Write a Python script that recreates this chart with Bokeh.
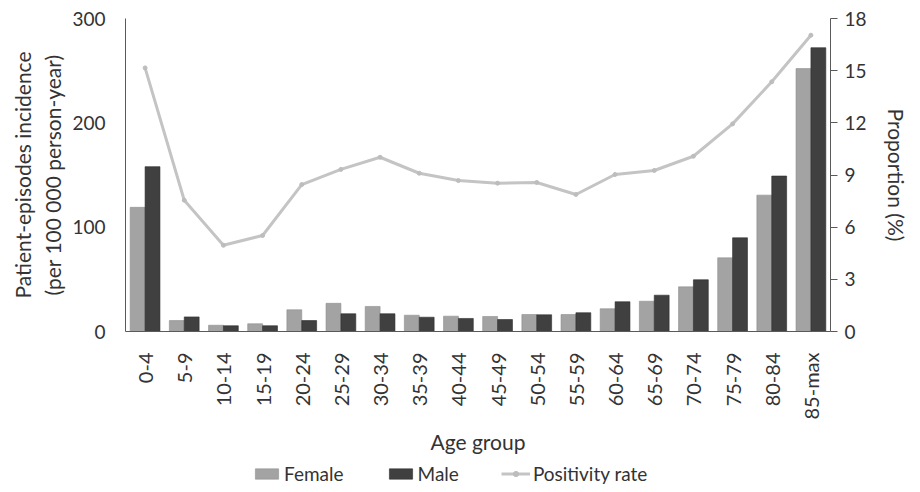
import math
from bokeh.plotting import figure
from bokeh.layouts import column
from bokeh.models import (ColumnDataSource, FactorRange, Range1d, LinearAxis,
                          FixedTicker, Legend, LegendItem)
from bokeh.transform import dodge
from bokeh.embed import file_html
from bokeh.resources import INLINE

age_groups = ["0-4", "5-9", "10-14", "15-19", "20-24", "25-29", "30-34", "35-39",
              "40-44", "45-49", "50-54", "55-59", "60-64", "65-69", "70-74",
              "75-79", "80-84", "85-max"]
female = [119, 10.5, 6, 7.4, 20.8, 27, 24, 15.6, 14.7, 14.4, 16.3, 16.3, 21.8,
          29, 42.8, 70.6, 130.7, 252]
male = [158, 14, 5.5, 5.5, 10.5, 17, 17, 13.7, 12.5, 11.5, 16, 18, 28.5, 34.8,
        49.6, 89.8, 149, 272]
positivity = [15.16, 7.55, 4.96, 5.52, 8.45, 9.32, 10.02, 9.1, 8.68, 8.53, 8.57,
              7.88, 9.03, 9.26, 10.08, 11.94, 14.36, 17.04]
left_ticks = [0, 100, 200, 300]
right_ticks = [0, 3, 6, 9, 12, 15, 18]

FONT = "Lato"
TXT = "#333333"
AX = "#5a5a5a"
F_COL, F_LINE = "#a3a3a3", "#8f8f8f"
M_COL, M_LINE = "#404040", "#2e2e2e"
L_COL = "#c4c4c4"
P_COL = "#bdbdbd"

src = ColumnDataSource(dict(age=age_groups, female=female, male=male, pos=positivity))


def add_series(fig, y_name):
    rf = fig.vbar(x=dodge("age", -0.19, range=fig.x_range), top="female", width=0.38,
                  source=src, fill_color=F_COL, line_color=F_LINE, line_width=0.6)
    rm = fig.vbar(x=dodge("age", 0.19, range=fig.x_range), top="male", width=0.38,
                  source=src, fill_color=M_COL, line_color=M_LINE, line_width=0.6)
    rl = fig.line(x="age", y="pos", source=src, y_range_name=y_name,
                  line_color=L_COL, line_width=3)
    rs = fig.scatter(x="age", y="pos", source=src, y_range_name=y_name,
                     size=4, fill_color=P_COL, line_color=P_COL)
    return rf, rm, rl, rs


p = figure(x_range=FactorRange(*age_groups, range_padding=0),
           y_range=Range1d(0, 300),
           frame_width=705, frame_height=313,
           min_border_left=125, min_border_right=80, min_border_top=18,
           min_border_bottom=128,
           output_backend="svg", toolbar_location=None)
p.extra_y_ranges = {"prop": Range1d(0, 18)}
add_series(p, "prop")

p.xgrid.grid_line_color = None
p.ygrid.grid_line_color = None
p.outline_line_color = None

# left axis
ya = p.yaxis[0]
ya.ticker = FixedTicker(ticks=left_ticks)
ya.major_tick_line_color = None
ya.minor_tick_line_color = None
ya.axis_line_color = AX
ya.major_label_standoff = 14
ya.major_label_text_font = FONT
ya.major_label_text_font_size = "19px"
ya.major_label_text_color = TXT
ya.axis_label = "Patient-episodes incidence\n(per 100 000 person-year)"
ya.axis_label_text_font = FONT
ya.axis_label_text_font_size = "21px"
ya.axis_label_text_font_style = "normal"
ya.axis_label_text_color = TXT
ya.axis_label_standoff = 4

# right axis
ra = LinearAxis(y_range_name="prop", ticker=FixedTicker(ticks=right_ticks))
ra.major_tick_out = 7
ra.major_tick_in = 0
ra.major_tick_line_color = AX
ra.minor_tick_line_color = None
ra.axis_line_color = AX
ra.major_label_standoff = 7
ra.major_label_text_font = FONT
ra.major_label_text_font_size = "19px"
ra.major_label_text_color = TXT
ra.axis_label = "Proportion (%)"
ra.axis_label_text_font = FONT
ra.axis_label_text_font_size = "21px"
ra.axis_label_text_font_style = "normal"
ra.axis_label_text_color = TXT
ra.axis_label_standoff = 14
p.add_layout(ra, "right")

# x axis
xa = p.xaxis[0]
xa.major_tick_line_color = None
xa.minor_tick_line_color = None
xa.axis_line_color = AX
xa.major_label_orientation = math.pi / 2
xa.major_label_standoff = 15
xa.major_label_text_font = FONT
xa.major_label_text_font_size = "20px"
xa.major_label_text_color = TXT
xa.axis_label = "Age group"
xa.axis_label_text_font = FONT
xa.axis_label_text_font_size = "21px"
xa.axis_label_text_font_style = "normal"
xa.axis_label_text_color = TXT
xa.axis_label_standoff = 7

# legend strip: same series drawn outside its visible range, only legend shows
leg = figure(width=910, height=26,
             x_range=FactorRange(*age_groups, range_padding=0),
             y_range=Range1d(1000, 1001),
             min_border=0, output_backend="svg", toolbar_location=None)
leg.extra_y_ranges = {"prop": Range1d(1000, 1001)}
leg.axis.visible = False
leg.grid.grid_line_color = None
leg.outline_line_color = None
g_f, g_m, g_l, g_s = add_series(leg, "prop")
legend = Legend(items=[LegendItem(label="Female", renderers=[g_f]),
                       LegendItem(label="Male", renderers=[g_m]),
                       LegendItem(label="Positivity rate", renderers=[g_l, g_s])],
                orientation="horizontal", location=(127, 0),
                border_line_color=None, background_fill_alpha=0,
                label_text_font=FONT, label_text_font_size="19px",
                label_text_color=TXT, glyph_width=29, glyph_height=13,
                label_standoff=3, spacing=42, padding=0, margin=0)
leg.add_layout(legend, "center")

layout = column(p, leg, spacing=0)
open("out.html", "w").write(file_html(layout, INLINE))
